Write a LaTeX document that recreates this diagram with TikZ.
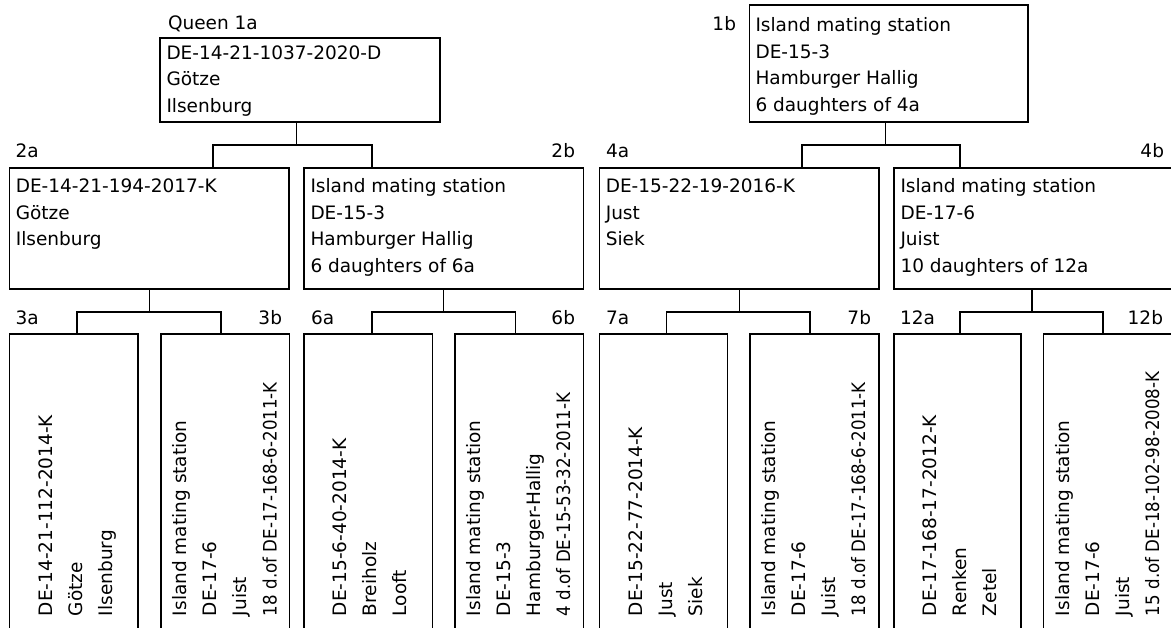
\documentclass[tikz,border=0pt]{standalone}
\usepackage{graphicx}
\usepackage{fontspec}
\setmainfont{DejaVu Sans}
\usetikzlibrary{calc}
\tikzset{
  box/.style={draw, rectangle, line width=1.3pt, inner sep=0pt, outer sep=0pt, anchor=north west},
  txt/.style={inner sep=0pt, outer sep=0pt, anchor=base west, font=\fontsize{18.5}{26.4}\selectfont},
  vtxt/.style={inner sep=0pt, outer sep=0pt, anchor=base west, rotate=90, font=\fontsize{18.5}{30}\selectfont},
  lbl/.style={inner sep=0pt, outer sep=0pt, font=\fontsize{18.5}{22}\selectfont},
  link/.style={line width=1.3pt},
}
\newcommand{\mylines}[1]{\parbox[t]{330pt}{#1}}
\newcommand{\narrow}[1]{\scalebox{0.9}[1]{#1}}
\begin{document}
\begin{tikzpicture}[x=1pt,y=-1pt]
\useasboundingbox (0,0) rectangle (1171,628);
\clip (0,0) rectangle (1171,628);

% ---------- left half ----------
\node[lbl, anchor=base west] (l1a) at (168,30) {Queen 1a};
\node[box, minimum width=280pt, minimum height=84pt] (n1a) at (160,38) {};
\node[txt] (t1a) at (166.5,59.5) {\mylines{DE-14-21-1037-2020-D\\Götze\\Ilsenburg}};

\node[lbl, anchor=base west] (l2a) at (15.7,158) {2a};
\node[lbl, anchor=base east] (l2b) at (575,158) {2b};
\node[box, minimum width=279.5pt, minimum height=121pt] (n2a) at (9.5,168) {};
\node[box, minimum width=279.5pt, minimum height=121pt] (n2b) at (304,168) {};
\node[txt] (t2a) at (15.8,193) {\mylines{DE-14-21-194-2017-K\\Götze\\Ilsenburg}};
\node[txt] (t2b) at (310.5,193) {\mylines{Island mating station\\DE-15-3\\Hamburger Hallig\\6 daughters of 6a}};

\node[lbl, anchor=base west] (l3a) at (15.7,325) {3a};
\node[lbl, anchor=base east] (l3b) at (282,325) {3b};
\node[lbl, anchor=base west] (l6a) at (311,325) {6a};
\node[lbl, anchor=base east] (l6b) at (575,325) {6b};
\node[box, minimum width=128.5pt, minimum height=326pt] (n3a) at (9.5,334) {};
\node[box, minimum width=128.5pt, minimum height=326pt] (n3b) at (161,334) {};
\node[box, minimum width=128.5pt, minimum height=326pt] (n6a) at (304,334) {};
\node[box, minimum width=128.5pt, minimum height=326pt] (n6b) at (455,334) {};
\node[vtxt] (t3a) at (52.5,616) {\mylines{DE-14-21-112-2014-K\\Götze\\Ilsenburg}};
\node[vtxt] (t3b) at (186.5,616) {\mylines{Island mating station\\DE-17-6\\Juist\\\narrow{18 d.of DE-17-168-6-2011-K}}};
\node[vtxt] (t6a) at (346.5,616) {\mylines{DE-15-6-40-2014-K\\Breiholz\\Looft}};
\node[vtxt] (t6b) at (480,616) {\mylines{Island mating station\\DE-15-3\\Hamburger-Hallig\\\narrow{4 d.of DE-15-53-32-2011-K}}};

\draw[link] ($(n2a.north west)+(203.5,0)$) |- ($(n1a.south)+(-3.5,23)$) -- ($(n1a.south)+(-3.5,0)$);
\draw[link] ($(n2b.north west)+(68,0)$) |- ($(n1a.south)+(-3.5,23)$);
\draw[link] ($(n3a.north west)+(67.5,0)$) |- ($(n2a.south)+(0,23)$) -- (n2a.south);
\draw[link] ($(n3b.north west)+(60,0)$) |- ($(n2a.south)+(0,23)$);
\draw[link] ($(n6a.north west)+(68,0)$) |- ($(n2b.south)+(0,23)$) -- (n2b.south);
\draw[link] ($(n6b.north west)+(60.5,0)$) |- ($(n2b.south)+(0,23)$);

% ---------- right half ----------
\node[lbl, anchor=base east] (l1b) at (736,31) {1b};
\node[box, minimum width=278.5pt, minimum height=117pt] (n1b) at (749.5,5) {};
\node[txt] (t1b) at (755.5,32) {\mylines{Island mating station\\DE-15-3\\Hamburger Hallig\\6 daughters of 4a}};

\node[lbl, anchor=base west] (l4a) at (606,158) {4a};
\node[lbl, anchor=base east] (l4b) at (1164,158) {4b};
\node[box, minimum width=279.5pt, minimum height=121pt] (n4a) at (599.5,168) {};
\node[box, minimum width=281pt, minimum height=121pt] (n4b) at (894,168) {};
\node[txt] (t4a) at (605.8,193) {\mylines{DE-15-22-19-2016-K\\Just\\Siek}};
\node[txt] (t4b) at (900.5,193) {\mylines{Island mating station\\DE-17-6\\Juist\\10 daughters of 12a}};

\node[lbl, anchor=base west] (l7a) at (606,325) {7a};
\node[lbl, anchor=base east] (l7b) at (871,325) {7b};
\node[lbl, anchor=base west] (l12a) at (900,325) {12a};
\node[lbl, anchor=base east] (l12b) at (1163,325) {12b};
\node[box, minimum width=128pt, minimum height=326pt] (n7a) at (599.5,334) {};
\node[box, minimum width=129pt, minimum height=326pt] (n7b) at (750,334) {};
\node[box, minimum width=127pt, minimum height=326pt] (n12a) at (894,334) {};
\node[box, minimum width=131.5pt, minimum height=326pt] (n12b) at (1043.5,334) {};
\node[vtxt] (t7a) at (642,616) {\mylines{DE-15-22-77-2014-K\\Just\\Siek}};
\node[vtxt] (t7b) at (775,616) {\mylines{Island mating station\\DE-17-6\\Juist\\\narrow{18 d.of DE-17-168-6-2011-K}}};
\node[vtxt] (t12a) at (936.5,616) {\mylines{DE-17-168-17-2012-K\\Renken\\Zetel}};
\node[vtxt] (t12b) at (1069,616) {\mylines{Island mating station\\DE-17-6\\Juist\\\narrow{15 d.of DE-18-102-98-2008-K}}};

\draw[link] ($(n4a.north west)+(202.5,0)$) |- ($(n1b.south)+(-3,23)$) -- ($(n1b.south)+(-3,0)$);
\draw[link] ($(n4b.north west)+(66,0)$) |- ($(n1b.south)+(-3,23)$);
\draw[link] ($(n7a.north west)+(67,0)$) |- ($(n4a.south)+(0,23)$) -- (n4a.south);
\draw[link] ($(n7b.north west)+(60,0)$) |- ($(n4a.south)+(0,23)$);
\draw[link] ($(n12a.north west)+(66,0)$) |- ($(n4b.south west)+(138,23)$) -- ($(n4b.south west)+(138,0)$);
\draw[link] ($(n12b.north west)+(59.5,0)$) |- ($(n4b.south west)+(138,23)$);
\end{tikzpicture}
\end{document}
